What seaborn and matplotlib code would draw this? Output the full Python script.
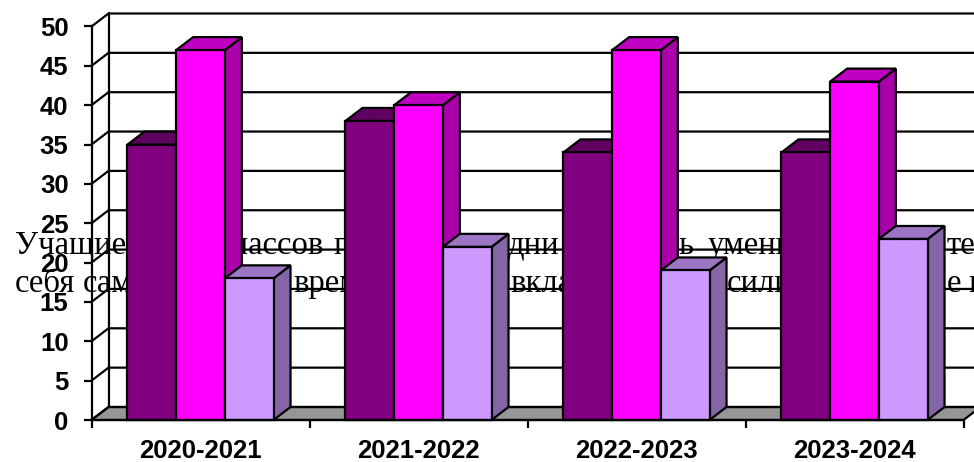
import matplotlib
matplotlib.use('Agg')
import matplotlib.pyplot as plt
from matplotlib.patches import Polygon
import seaborn as sns
import pandas as pd

# data
years = ['2020-2021', '2021-2022', '2022-2023', '2023-2024']
series_names = ['Ряд 1', 'Ряд 2', 'Ряд 3']
dark_vals = [35, 38, 34, 34]
pink_vals = [47, 40, 47, 43]
light_vals = [18, 22, 19, 23]
y_ticks = list(range(0, 55, 5))

# stray page text lying behind the chart: visible pieces only
line1_words = ['Учащиеся', 'классов', 'п', 'дни', 'ь', 'умени', 'тел']
line1_x = [15, 216, 333, 508, 678, 708, 947]
line2_words = ['себя', 'сам', 'врем', 'вкла', 'сили', 'е', 'в']
line2_x = [15, 83, 293, 510, 727, 947, 968]

W, H = 974, 462
front = {'dark': '#800080', 'pink': '#FF00FF', 'light': '#CC99FF'}
side = ['#600060', '#AA00AA', '#8465A5']
top = ['#600060', '#C000C0', '#9C75C4']

sns.set_theme(style='white')
plt.rcParams['font.family'] = ['Liberation Sans', 'DejaVu Sans']

df = pd.DataFrame({
    'year': years * 3,
    'series': [n for n in series_names for _ in years],
    'value': dark_vals + pink_vals + light_vals,
})

fig = plt.figure(figsize=(W / 100, H / 100), dpi=100)
ax = fig.add_axes([91.5 / W, (H - 420) / H, 872 / W, 393.5 / H])

lw = 1.6
sns.barplot(data=df, x='year', y='value', hue='series', hue_order=series_names,
            palette=list(front.values()), saturation=1, width=0.67, gap=0,
            edgecolor='black', linewidth=lw, legend=False, ax=ax)

ax.set_xlim(-0.5, 3.5)
ax.set_ylim(0, 50)

# depth of the fake 3d box in data units
dx = 17 / 218
dy = 13 / (393.5 / 50)

# floor and walls
x0, x1 = -0.5, 3.5
ax.add_patch(Polygon([(x0, 0), (x1, 0), (x1 + dx, dy), (x0 + dx, dy)], closed=True,
                     facecolor='#969696', edgecolor='black', lw=lw, clip_on=False, zorder=2))
for v in y_ticks:
    ax.plot([x0, x0 + dx, x1 + dx], [v, v + dy, v + dy], color='black', lw=lw,
            clip_on=False, zorder=3, solid_joinstyle='miter')
ax.plot([x0 + dx, x0 + dx], [dy, 50 + dy], color='black', lw=lw, clip_on=False, zorder=3)

# words sit above the grid, below the bars
for words, xs, ypix in [(line1_words, line1_x, 254), (line2_words, line2_x, 292)]:
    for word, xp in zip(words, xs):
        ax.text(xp / W, 1 - ypix / H, word, transform=fig.transFigure, family='Liberation Serif',
                fontsize=23.5, color='black', ha='left', va='baseline', zorder=4, clip_on=False)

# side and top faces for every bar, worked out from the bars seaborn drew
bars = []
for i, cont in enumerate(ax.containers):
    for p in cont.patches:
        bars.append((p.get_x(), i, p))
bars.sort(key=lambda b: b[0])

z = 10
for xb, i, p in bars:
    w = p.get_width()
    h = p.get_height()
    ax.add_patch(Polygon([(xb + w, 0), (xb + w + dx, dy), (xb + w + dx, h + dy), (xb + w, h)],
                         closed=True, facecolor=side[i], edgecolor='black', lw=lw,
                         clip_on=False, zorder=z))
    ax.add_patch(Polygon([(xb, h), (xb + dx, h + dy), (xb + w + dx, h + dy), (xb + w, h)],
                         closed=True, facecolor=top[i], edgecolor='black', lw=lw,
                         clip_on=False, zorder=z))
    p.set_zorder(z + 1)
    p.set_clip_on(False)
    z += 2

# axes
sns.despine(ax=ax, top=True, right=True)
for s in ['left', 'bottom']:
    ax.spines[s].set_linewidth(lw)
    ax.spines[s].set_color('black')
    ax.spines[s].set_zorder(40)
ax.set_xlabel('')
ax.set_ylabel('')
ax.set_yticks(y_ticks)
ax.set_yticklabels([str(v) for v in y_ticks], fontsize=18.5, fontweight='bold', color='black')
ax.set_xticks(range(len(years)))
ax.set_xticklabels(years, fontsize=18.5, fontweight='bold', color='black')
ax.set_xticks([-0.5, 0.5, 1.5, 2.5, 3.5], minor=True)
ax.tick_params(axis='x', which='major', length=0, pad=14)
ax.tick_params(axis='x', which='minor', length=5.5, width=lw, color='black', bottom=True)
ax.tick_params(axis='y', which='major', length=5.5, width=lw, color='black', pad=11, left=True)

fig.savefig('out.png', dpi=100)
plt.close(fig)
